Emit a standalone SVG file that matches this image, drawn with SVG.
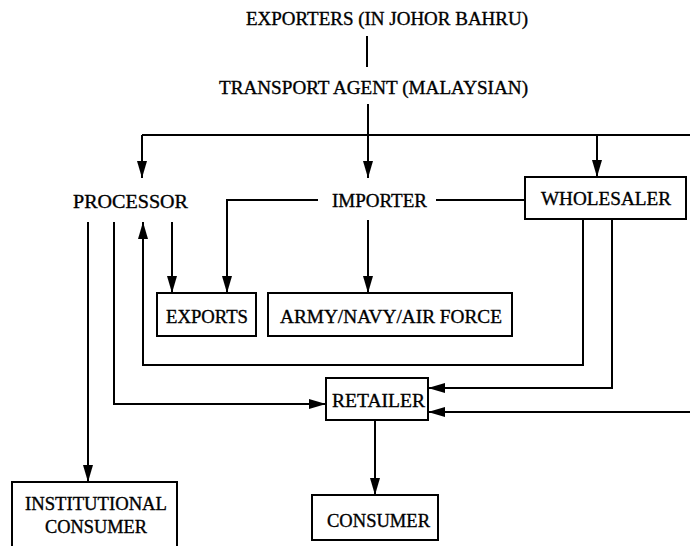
<svg xmlns="http://www.w3.org/2000/svg" width="690" height="546" viewBox="0 0 690 546">
  <defs>
    <marker id="arrow" viewBox="0 0 17 10" refX="17" refY="5" markerWidth="17" markerHeight="10" markerUnits="userSpaceOnUse" orient="auto">
      <path d="M0,0 L17,5 L0,10 z" fill="#000"/>
    </marker>
    <style>
      text { font-family: "Liberation Serif", "Times New Roman", serif; font-size: 19px; fill: #000; stroke: #000; stroke-width: 0.35; }
      .box { fill: #fff; stroke: #000; stroke-width: 2; }
      .link { fill: none; stroke: #000; stroke-width: 2; }
      .arr { marker-end: url(#arrow); }
    </style>
  </defs>
  <rect width="690" height="546" fill="#fff"/>

  <!-- connectors -->
  <g id="connectors">
    <!-- exporters to transport agent -->
    <path class="link" d="M367,36 V67"/>
    <!-- transport agent to importer -->
    <path class="link arr" d="M368,104 V178"/>
    <!-- distribution bus -->
    <path class="link" d="M142,135 H690"/>
    <path class="link arr" d="M142,135 V178"/>
    <path class="link arr" d="M597,135 V177"/>
    <!-- importer links -->
    <path class="link" d="M436,200 H525"/>
    <path class="link arr" d="M318,200 H227 V293"/>
    <path class="link arr" d="M368,220 V293"/>
    <!-- processor outputs -->
    <path class="link arr" d="M172,222 V293"/>
    <path class="link arr" d="M88,222 V482"/>
    <path class="link arr" d="M114,222 V404 H326"/>
    <!-- wholesaler outputs -->
    <path class="link arr" d="M583,219 V365 H143 V222"/>
    <path class="link arr" d="M612,219 V388 H428"/>
    <path class="link arr" d="M690,412 H428"/>
    <!-- retailer to consumer -->
    <path class="link arr" d="M375,420 V495"/>
  </g>

  <g id="exporters">
    <text x="246" y="25" textLength="282" lengthAdjust="spacingAndGlyphs">EXPORTERS (IN JOHOR BAHRU)</text>
  </g>
  <g id="transport-agent">
    <text x="219" y="94" textLength="309" lengthAdjust="spacingAndGlyphs">TRANSPORT AGENT (MALAYSIAN)</text>
  </g>
  <g id="processor">
    <text x="73" y="208" textLength="115" lengthAdjust="spacingAndGlyphs">PROCESSOR</text>
  </g>
  <g id="importer">
    <text x="332" y="207" textLength="95" lengthAdjust="spacingAndGlyphs">IMPORTER</text>
  </g>
  <g id="wholesaler">
    <rect class="box" x="525" y="177" width="161" height="42"/>
    <text x="541" y="205" textLength="130" lengthAdjust="spacingAndGlyphs">WHOLESALER</text>
  </g>
  <g id="exports">
    <rect class="box" x="157" y="293" width="99" height="43"/>
    <text x="166" y="323" textLength="82" lengthAdjust="spacingAndGlyphs">EXPORTS</text>
  </g>
  <g id="armed-forces">
    <rect class="box" x="268" y="293" width="244" height="43"/>
    <text x="280" y="323" textLength="222" lengthAdjust="spacingAndGlyphs">ARMY/NAVY/AIR FORCE</text>
  </g>
  <g id="retailer">
    <rect class="box" x="326" y="378" width="102" height="42"/>
    <text x="332" y="407" textLength="93" lengthAdjust="spacingAndGlyphs">RETAILER</text>
  </g>
  <g id="consumer">
    <rect class="box" x="312" y="495" width="126" height="45"/>
    <text x="327" y="527" textLength="103" lengthAdjust="spacingAndGlyphs">CONSUMER</text>
  </g>
  <g id="institutional-consumer">
    <rect class="box" x="12" y="482" width="165" height="66"/>
    <text x="25" y="510" textLength="142" lengthAdjust="spacingAndGlyphs">INSTITUTIONAL</text>
    <text x="45" y="533" textLength="102" lengthAdjust="spacingAndGlyphs">CONSUMER</text>
  </g>
</svg>
